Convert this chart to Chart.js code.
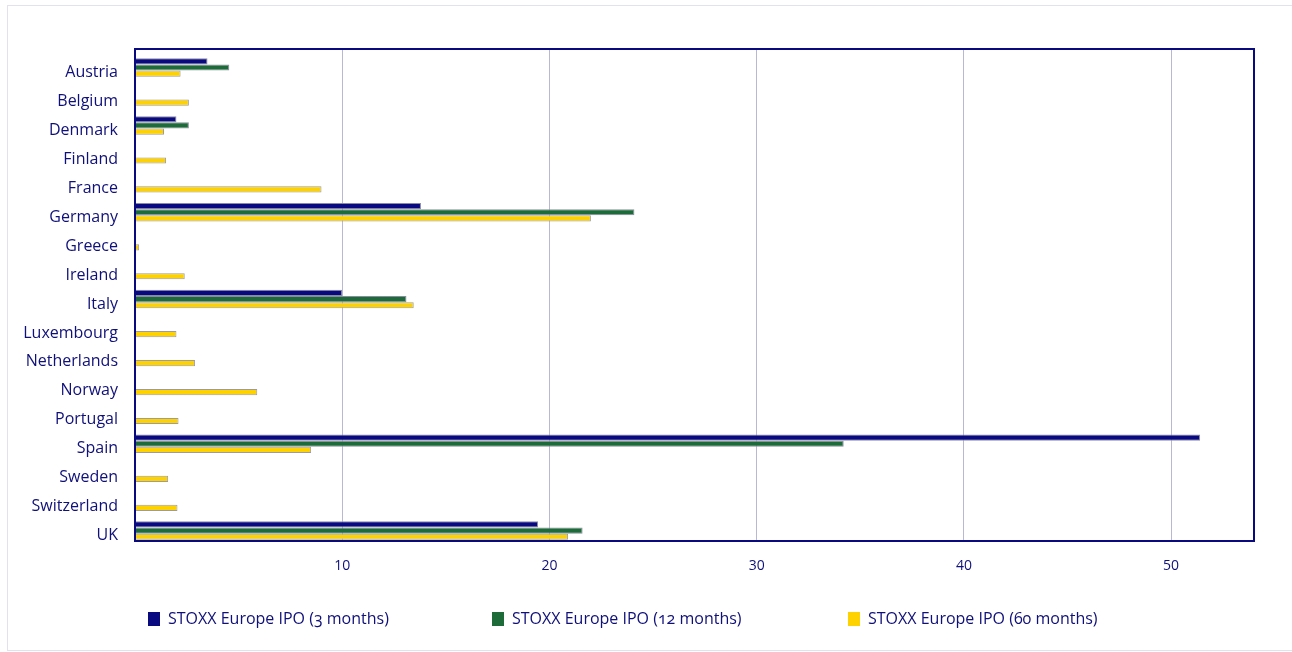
<!DOCTYPE html>
<html>
<head>
<meta charset="utf-8">
<script src="https://cdn.jsdelivr.net/npm/chart.js@4"></script>
<style>
body { margin: 0; background: #fff; width: 1292px; height: 652px; overflow: hidden; position: relative; font-family: "Open Sans", sans-serif; }
#frame { position: absolute; left: 7px; top: 5px; width: 1300px; height: 644px; border: 1px solid #e2e2ec; }
#wrap { position: absolute; left: 0; top: 0; width: 1292px; height: 652px; }
.leg { position: absolute; top: 608px; font-size: 16px; color: #10107a; line-height: 20px; white-space: nowrap; font-feature-settings: "onum"; }
.leg span { display: inline-block; width: 12px; height: 14px; vertical-align: -2px; margin-right: 8px; }
</style>
</head>
<body>
<div id="frame"></div>
<div id="wrap"><canvas id="grafico"></canvas></div>
<div class="leg" style="left:148px"><span style="background:#0a0a80"></span>STOXX Europe IPO (3 months)</div>
<div class="leg" style="left:492px"><span style="background:#1c6b38"></span>STOXX Europe IPO (12 months)</div>
<div class="leg" style="left:848px"><span style="background:#fdd200"></span>STOXX Europe IPO (60 months)</div>
<script>
// dados
const paises = ['Austria', 'Belgium', 'Denmark', 'Finland', 'France', 'Germany', 'Greece', 'Ireland', 'Italy',
  'Luxembourg', 'Netherlands', 'Norway', 'Portugal', 'Spain', 'Sweden', 'Switzerland', 'UK'];
const ipo3m = [3.5, null, 2.0, null, null, 13.8, null, null, 10.0, null, null, null, null, 51.4, null, null, 19.45];
const ipo12m = [4.55, null, 2.6, null, null, 24.1, null, null, 13.1, null, null, null, null, 34.2, null, null, 21.6];
const ipo60m = [2.2, 2.6, 1.4, 1.5, 9.0, 22.0, 0.2, 2.4, 13.45, 2.0, 2.9, 5.9, 2.1, 8.5, 1.6, 2.05, 20.9];
const xTicks = [10, 20, 30, 40, 50];

const azul = '#10107a';

// pontos {x, y} com y = posicao do pais
function pontos(serie) {
  return serie.map((v, i) => ({ x: v, y: i }));
}

const moldura = {
  id: 'moldura',
  afterDraw(chart) {
    const { ctx, chartArea: a } = chart;
    ctx.save();
    ctx.strokeStyle = '#0a0a80';
    ctx.lineWidth = 2;
    ctx.strokeRect(a.left, a.top, a.right - a.left, a.bottom - a.top);
    ctx.restore();
  }
};

const ctx = document.getElementById('grafico');

new Chart(ctx, {
  type: 'bar',
  data: {
    datasets: [
      { label: 'STOXX Europe IPO (3 months)', data: pontos(ipo3m), backgroundColor: '#0a0a80', borderColor: '#8a8aa0', borderWidth: 1 },
      { label: 'STOXX Europe IPO (12 months)', data: pontos(ipo12m), backgroundColor: '#1c6b38', borderColor: '#8a8aa0', borderWidth: 1 },
      { label: 'STOXX Europe IPO (60 months)', data: pontos(ipo60m), backgroundColor: '#fdd200', borderColor: '#9a9aa8', borderWidth: 1 }
    ]
  },
  options: {
    indexAxis: 'y',
    responsive: true,
    maintainAspectRatio: false,
    animation: false,
    layout: { padding: { top: 49, right: 38, bottom: 71, left: 0 } },
    datasets: { bar: { categoryPercentage: 0.64, barPercentage: 1 } },
    plugins: { legend: { display: false }, tooltip: { enabled: false } },
    scales: {
      x: {
        type: 'linear',
        min: 0,
        max: 54,
        afterFit(s) { s.height = 40; },
        grid: { color: '#b8b8d0', lineWidth: 1, drawTicks: false },
        border: { display: false },
        ticks: {
          stepSize: 10,
          includeBounds: false,
          padding: 17,
          color: azul,
          font: { family: 'Open Sans', size: 14 },
          callback: (v) => xTicks.includes(v) ? String(v) : ''
        }
      },
      y: {
        type: 'linear',
        reverse: true,
        offset: false,
        min: -0.64,
        max: 16.36,
        afterFit(s) { s.width = 135; },
        afterBuildTicks(s) { s.ticks = paises.map((p, i) => ({ value: i })); },
        grid: { display: false, drawTicks: false, offset: false },
        border: { display: false },
        ticks: {
          padding: 17,
          labelOffset: 5,
          autoSkip: false,
          color: azul,
          font: { family: 'Open Sans', size: 16 },
          callback: (v) => paises[v] ?? ''
        }
      }
    }
  },
  plugins: [moldura]
});
</script>
</body>
</html>
